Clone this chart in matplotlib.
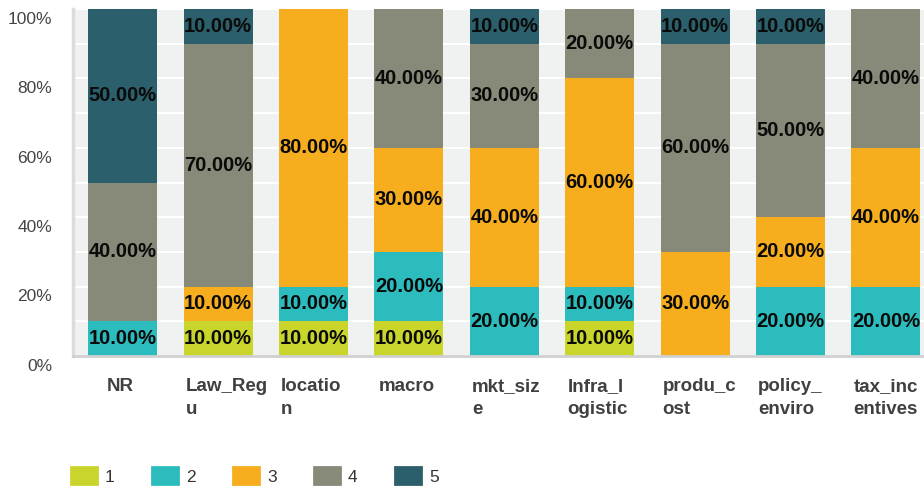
import numpy as np
import matplotlib.pyplot as plt
from matplotlib.patches import Patch
from matplotlib import transforms

# survey answers per factor, share of responses (%) for scores 1..5
categorias = ['NR', 'Law_Regu', 'location', 'macro', 'mkt_size',
              'Infra_logistic', 'produ_cost', 'policy_enviro', 'tax_incentives']
rotulos = ['NR', 'Law_Reg\nu', 'locatio\nn', 'macro', 'mkt_siz\ne',
           'Infra_l\nogistic', 'produ_c\nost', 'policy_\nenviro', 'tax_inc\nentives']
series = ['1', '2', '3', '4', '5']

nota1 = [0, 10, 10, 10, 0, 10, 0, 0, 0]
nota2 = [10, 0, 10, 20, 20, 10, 0, 20, 20]
nota3 = [0, 10, 80, 30, 40, 60, 30, 20, 40]
nota4 = [40, 70, 0, 40, 30, 20, 60, 50, 40]
nota5 = [50, 10, 0, 0, 10, 0, 10, 10, 0]

cores = ['#cad52b', '#2cbcbd', '#f6ae1f', '#878a78', '#2b5f6b']

valores = np.array([nota1, nota2, nota3, nota4, nota5], dtype=float)
x = np.arange(len(categorias))

fig = plt.figure(figsize=(9.24, 4.9), dpi=100)
ax = fig.add_axes([73/924, 134/490, 860.7/924, 347/490])
ax.set_facecolor('#f0f1f1')

base = np.zeros(len(categorias))
for k in range(len(series)):
    ax.bar(x, valores[k], 0.723, bottom=base, color=cores[k], zorder=2)
    for i in range(len(categorias)):
        v = valores[k][i]
        if v > 0:
            ax.text(x[i], base[i] + v/2, '%.2f%%' % v, ha='center', va='center',
                    fontsize=14.5, fontweight='bold', family='Liberation Sans',
                    color='#0a0a0a', zorder=3)
    base = base + valores[k]

ax.set_xlim(-0.52, 8.5)
ax.set_ylim(0, 100)
ax.set_yticks(np.arange(0, 101, 20))
ax.set_yticks(np.arange(10, 100, 20), minor=True)
ax.set_yticklabels(['%d%%' % v for v in np.arange(0, 101, 20)])
ax.set_xticks([])
ax.grid(axis='y', which='both', color='white', lw=1.5, zorder=1)
ax.set_axisbelow(True)
ax.tick_params(axis='y', which='both', length=0, pad=15,
               labelsize=12.5, labelcolor='#444444')
desce = transforms.ScaledTranslation(0, -2/72, fig.dpi_scale_trans)
for lab in ax.get_yticklabels():
    lab.set_family('Liberation Sans')
    lab.set_va('top')
    lab.set_transform(lab.get_transform() + desce)

for s in ['top', 'right']:
    ax.spines[s].set_visible(False)
ax.spines['left'].set_color('#dcdcdc')
ax.spines['left'].set_linewidth(2.5)
ax.spines['bottom'].set_color('#d0d0d0')
ax.spines['bottom'].set_linewidth(2)

# category names under the bars
trans = transforms.blended_transform_factory(ax.transData, ax.transAxes)
for i, r in enumerate(rotulos):
    if '\n' in r:
        ax.text(x[i] - 0.34, -0.063, r, transform=trans, ha='left', va='top',
                fontsize=13.5, fontweight='bold', family='Liberation Sans',
                color='#404040', linespacing=1.45)
    else:
        ax.text(x[i] - 0.02, -0.063, r, transform=trans, ha='center', va='top',
                fontsize=13.5, fontweight='bold', family='Liberation Sans',
                color='#404040', linespacing=1.45)

handles = [Patch(facecolor=c, edgecolor=c, linewidth=2, joinstyle='round')
           for c in cores]
fig.legend(handles, series, loc='center left', bbox_to_anchor=(71/924, 14/490),
           ncol=5, frameon=False, borderpad=0, borderaxespad=0,
           handlelength=1.5, handleheight=1.15, handletextpad=0.45,
           columnspacing=2.16, prop={'family': 'Liberation Sans', 'size': 12.5},
           labelcolor='#333333')

plt.savefig('out.png', dpi=100)
